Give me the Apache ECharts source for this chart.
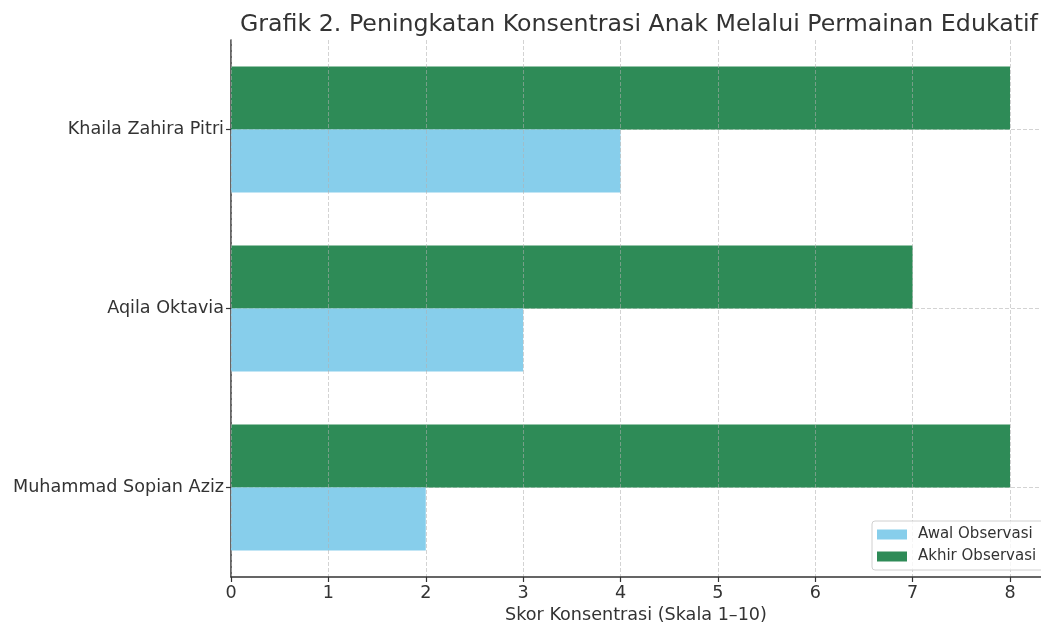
<!DOCTYPE html>
<html>
<head>
<meta charset="utf-8">
<script src="https://cdn.jsdelivr.net/npm/echarts@6/dist/echarts.min.js"></script>
<style>
  html, body { margin: 0; padding: 0; background: #fff; }
  #chart { width: 1041px; height: 624px; }
</style>
</head>
<body>
<div id="chart"></div>
<script>
// data
const students = ['Muhammad Sopian Aziz', 'Aqila Oktavia', 'Khaila Zahira Pitri'];
const awalObservasi = [2, 3, 4];
const akhirObservasi = [8, 7, 8];
const xTicks = [0, 1, 2, 3, 4, 5, 6, 7, 8];

const font = 'DejaVu Sans';
const chart = echarts.init(document.getElementById('chart'));

const option = {
  animation: false,
  title: {
    text: 'Grafik 2. Peningkatan Konsentrasi Anak Melalui Permainan Edukatif',
    left: 235,
    top: 8,
    textStyle: { fontFamily: font, fontSize: 23.7, fontWeight: 'normal', color: '#333' }
  },
  legend: {
    orient: 'vertical',
    left: 872,
    top: 521,
    itemWidth: 30,
    itemHeight: 10,
    itemGap: 7,
    padding: [6, 10, 6, 5],
    borderColor: '#d0d0d0',
    borderWidth: 1,
    borderRadius: 3,
    backgroundColor: 'rgba(255,255,255,0.8)',
    icon: 'rect',
    textStyle: { fontFamily: font, fontSize: 15, color: '#333', padding: [0, 0, 0, 6] },
    data: ['Awal Observasi', 'Akhir Observasi']
  },
  grid: { left: 231, right: 0, top: 40, bottom: 47, containLabel: false, outerBoundsMode: 'none' },
  xAxis: {
    type: 'value',
    min: 0,
    max: 8.318,
    interval: 1,
    z: 3,
    name: 'Skor Konsentrasi (Skala 1–10)',
    nameLocation: 'middle',
    nameGap: 26,
    nameTextStyle: { fontFamily: font, fontSize: 17.6, color: '#333' },
    axisLine: { show: true, lineStyle: { color: '#333', width: 1.5 } },
    axisTick: { show: true, length: 5, lineStyle: { color: '#333', width: 1.2 } },
    axisLabel: {
      fontFamily: font, fontSize: 17.6, color: '#333', margin: 7,
      showMaxLabel: false,
      formatter: v => xTicks.includes(v) ? String(v) : ''
    },
    splitLine: { show: true, lineStyle: { color: '#b0b0b0', opacity: 0.7, type: [4, 2], width: 0.8 } }
  },
  yAxis: {
    type: 'category',
    data: students,
    axisLine: { show: true, lineStyle: { color: '#333', width: 1.5 } },
    axisTick: { show: true, alignWithLabel: true, length: 5, lineStyle: { color: '#333', width: 1.2 } },
    axisLabel: { fontFamily: font, fontSize: 17.6, color: '#333', margin: 7 },
    splitLine: { show: true, alignWithLabel: true, lineStyle: { color: '#b0b0b0', opacity: 0.7, type: [4, 2], width: 0.8 } }
  },
  series: [
    {
      name: 'Akhir Observasi',
      type: 'bar',
      data: akhirObservasi,
      barWidth: 63,
      barGap: '0%',
      itemStyle: { color: '#2E8B57' }
    },
    {
      name: 'Awal Observasi',
      type: 'bar',
      data: awalObservasi,
      barWidth: 63,
      barGap: '0%',
      itemStyle: { color: '#87CEEB' }
    }
  ]
};

chart.setOption(option);
</script>
</body>
</html>
